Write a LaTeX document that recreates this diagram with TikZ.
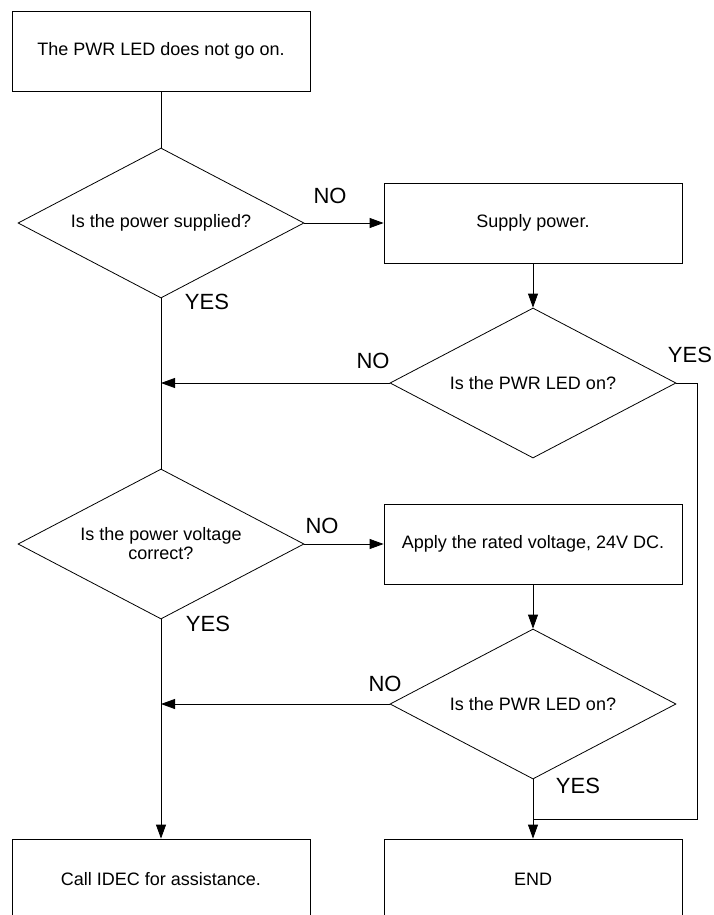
\documentclass[tikz,border=0pt]{standalone}
\usepackage{fontspec}
\setmainfont{Liberation Sans}
\usepackage{xcolor}
\usepackage{tikz}
\usetikzlibrary{arrows.meta, shapes.geometric}

\tikzset{
  stepbox/.style={draw, minimum width=298pt, minimum height=80pt, inner sep=0pt, font=\fontsize{18}{19}\selectfont},
  ask/.style={draw, diamond, aspect=1.9, minimum width=286pt, minimum height=150pt, inner sep=0pt, align=center, font=\fontsize{18}{19}\selectfont},
  answer/.style={font=\fontsize{22}{24}\selectfont},
  flow/.style={-{Triangle[length=14pt, width=10pt]}},
}

\begin{document}
\begin{tikzpicture}[x=1pt, y=-1pt, line width=0.8pt]
            % page frame (bottom boxes run off the page)
            \useasboundingbox (0,0) rectangle (713,915);
            \clip (0,0) rectangle (713,915);

            % boxes and questions
            \node[stepbox] (start) at (161,51) {The PWR LED does not go on.};
            \node[ask] (supplied) at (161,223) {Is the power supplied?};
            \node[stepbox] (supply) at (533,223) {Supply power.};
            \node[ask] (ledA) at (533,383) {Is the PWR LED on?};
            \node[ask] (voltage) at (161,544) {Is the power voltage\\correct?};
            \node[stepbox] (apply) at (533,544) {Apply the rated voltage, 24V DC.};
            \node[ask] (ledB) at (533,704) {Is the PWR LED on?};
            \node[stepbox] (call) at (161,879) {Call IDEC for assistance.};
            \node[stepbox] (finish) at (533,879) {END};

            % helper points
            \coordinate (backA) at (supplied.south |- ledA.west);
            \coordinate (backB) at (voltage.south |- ledB.west);
            \coordinate (joinEnd) at (533,819);

            % main line on the left
            \draw (start) -- (supplied);
            \draw (supplied.south) -- (voltage.north);
            \draw[flow] (voltage.south) -- (call.north);

            % NO branches
            \draw[flow] (supplied.east) -- (supply.west);
            \draw[flow] (supply.south) -- (ledA.north);
            \draw[flow] (ledA.west) -- (backA);
            \draw[flow] (voltage.east) -- (apply.west);
            \draw[flow] (apply.south) -- (ledB.north);
            \draw[flow] (ledB.west) -- (backB);

            % YES to END
            \draw (ledA.east) -- ++(21,0) |- (joinEnd);
            \draw[flow] (ledB.south) -- (finish.north);

            % answers
            \node[answer] (noA) at (330,196) {NO};
            \node[answer] (yesA) at (207,302) {YES};
            \node[answer] (noB) at (373,361) {NO};
            \node[answer] (yesB) at (690,355) {YES};
            \node[answer] (noC) at (322,526) {NO};
            \node[answer] (yesC) at (208,624) {YES};
            \node[answer] (noD) at (385,684) {NO};
            \node[answer] (yesD) at (578,786) {YES};
        \end{tikzpicture}
\end{document}
